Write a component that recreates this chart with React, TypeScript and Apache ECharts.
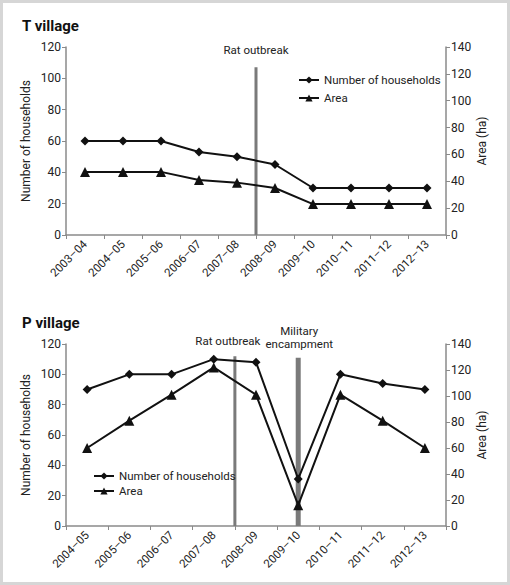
import React, { useEffect, useRef } from "react";
import * as echarts from "echarts";

const FONT = "Roboto, 'Liberation Sans', sans-serif";

const yearsT = ["2003–04", "2004–05", "2005–06", "2006–07", "2007–08", "2008–09", "2009–10", "2010–11", "2011–12", "2012–13"];
const householdsT = [60, 60, 60, 53, 50, 45, 30, 30, 30, 30];
const areaT = [47, 47, 47, 41, 39, 35, 23, 23, 23, 23];

const yearsP = ["2004–05", "2005–06", "2006–07", "2007–08", "2008–09", "2009–10", "2010–11", "2011–12", "2012–13"];
const householdsP = [90, 100, 100, 110, 108, 31, 100, 94, 90];
const areaP = [60, 81, 101, 122, 101, 16, 101, 81, 60];

// event markers: position on a 0..N scale of category slots, and top value (left axis units)
const eventsT = [{ pos: 5, top: 107, label: "Rat outbreak", width: 3, dist: 11, dx: 0 }];
const eventsP = [
  { pos: 4, top: 112, label: "Rat outbreak", width: 3, dist: 9, dx: -7 },
  { pos: 5.5, top: 111, label: "Military\nencampment", width: 5, dist: 7, dx: 1 },
];

const AXIS_COLOR = "#8a8a8a";
const TEXT_COLOR = "#222";

function App() {
  const ref = useRef<HTMLDivElement>(null);
  useEffect(() => {
    document.body.style.margin = "0";
    const chart = echarts.init(ref.current!, null, { renderer: "svg" });
    const catAxis = (grid: number, data: string[]) => ({
      type: "category",
      gridIndex: grid,
      data,
      boundaryGap: true,
      axisLine: { lineStyle: { color: AXIS_COLOR, width: 1.5 } },
      axisTick: { show: true, interval: 0, lineStyle: { color: AXIS_COLOR }, length: 4 },
      axisLabel: { interval: 0, rotate: 45, color: TEXT_COLOR, fontSize: 11.5, fontFamily: FONT, margin: 7 },
    });
    const hiddenX = (grid: number, max: number) => ({
      type: "value",
      gridIndex: grid,
      min: 0,
      max,
      show: false,
    });
    const yAxis = (grid: number, pos: "left" | "right", max: number, name: string, gap: number) => ({
      type: "value",
      gridIndex: grid,
      position: pos,
      min: 0,
      max,
      interval: 20,
      name,
      nameLocation: "middle",
      nameGap: gap,
      nameMoveOverlap: false,
      nameTextStyle: { color: TEXT_COLOR, fontSize: 12, fontFamily: FONT },
      axisLine: { show: true, lineStyle: { color: AXIS_COLOR, width: 1.5 } },
      axisTick: { show: true, lineStyle: { color: AXIS_COLOR }, length: 4 },
      axisLabel: { color: TEXT_COLOR, fontSize: 12, fontFamily: FONT, margin: 5 },
      splitLine: { show: false },
    });
    const dataSeries = (name: string, data: number[], x: number, y: number, symbol: string, size: number) => ({
      type: "line",
      name,
      xAxisIndex: x,
      yAxisIndex: y,
      data,
      symbol,
      symbolSize: size,
      z: 3,
      lineStyle: { color: "#111", width: 2 },
      itemStyle: { color: "#111" },
    });
    const eventSeries = (
      ev: { pos: number; top: number; label: string; width: number; dist: number; dx: number },
      x: number,
      y: number
    ) => ({
      type: "line",
      name: "event-" + ev.label,
      xAxisIndex: x,
      yAxisIndex: y,
      symbol: "circle",
      symbolSize: 0,
      showSymbol: true,
      z: 1,
      lineStyle: { color: "#7a7a7a", width: ev.width },
      itemStyle: { color: "#7a7a7a" },
      data: [
        { value: [ev.pos, 0], label: { show: false } },
        {
          value: [ev.pos, ev.top],
          label: {
            show: true,
            position: "top",
            distance: ev.dist,
            offset: [ev.dx, 0],
            formatter: ev.label,
            color: TEXT_COLOR,
            fontSize: 11.5,
            lineHeight: 13,
            fontFamily: FONT,
          },
        },
      ],
      silent: true,
    });
    const legend = (left: number, top: number, gap: number) => ({
      orient: "vertical",
      left,
      top,
      itemWidth: 20,
      itemHeight: 9,
      itemGap: gap,
      data: ["Number of households", "Area"],
      textStyle: { color: TEXT_COLOR, fontSize: 11.5, fontFamily: FONT },
      selectedMode: false,
    });
    const titleStyle = { fontSize: 15, fontWeight: "bold", color: "#111", fontFamily: FONT };
    chart.setOption({
      animation: false,
      backgroundColor: "#fff",
      title: [
        { text: "T village", left: 22, top: 18, padding: 0, textStyle: titleStyle },
        { text: "P village", left: 22, top: 315, padding: 0, textStyle: titleStyle },
      ],
      legend: [legend(293, 69, 6), legend(88, 465, 3)],
      grid: [
        { left: 66, right: 64, top: 47, height: 188 },
        { left: 66, right: 64, top: 344, height: 182 },
      ],
      xAxis: [catAxis(0, yearsT), hiddenX(0, yearsT.length), catAxis(1, yearsP), hiddenX(1, yearsP.length)],
      yAxis: [
        yAxis(0, "left", 120, "Number of households", 34),
        yAxis(0, "right", 140, "Area (ha)", 30),
        yAxis(1, "left", 120, "Number of households", 34),
        yAxis(1, "right", 140, "Area (ha)", 30),
      ],
      graphic: [
        {
          type: "rect",
          shape: { x: 1.5, y: 1.5, width: 507, height: 582 },
          style: { fill: "none", stroke: "#d6d6d6", lineWidth: 3 },
          silent: true,
        },
      ],
      series: [
        ...eventsT.map((e) => eventSeries(e, 1, 0)),
        dataSeries("Number of households", householdsT, 0, 0, "diamond", 9),
        dataSeries("Area", areaT, 0, 1, "triangle", 10),
        ...eventsP.map((e) => eventSeries(e, 3, 2)),
        dataSeries("Number of households", householdsP, 2, 2, "diamond", 9),
        dataSeries("Area", areaP, 2, 3, "triangle", 10),
      ],
    });
    return () => chart.dispose();
  }, []);
  return <div ref={ref} style={{ width: 510, height: 585 }} />;
}

export default App;
